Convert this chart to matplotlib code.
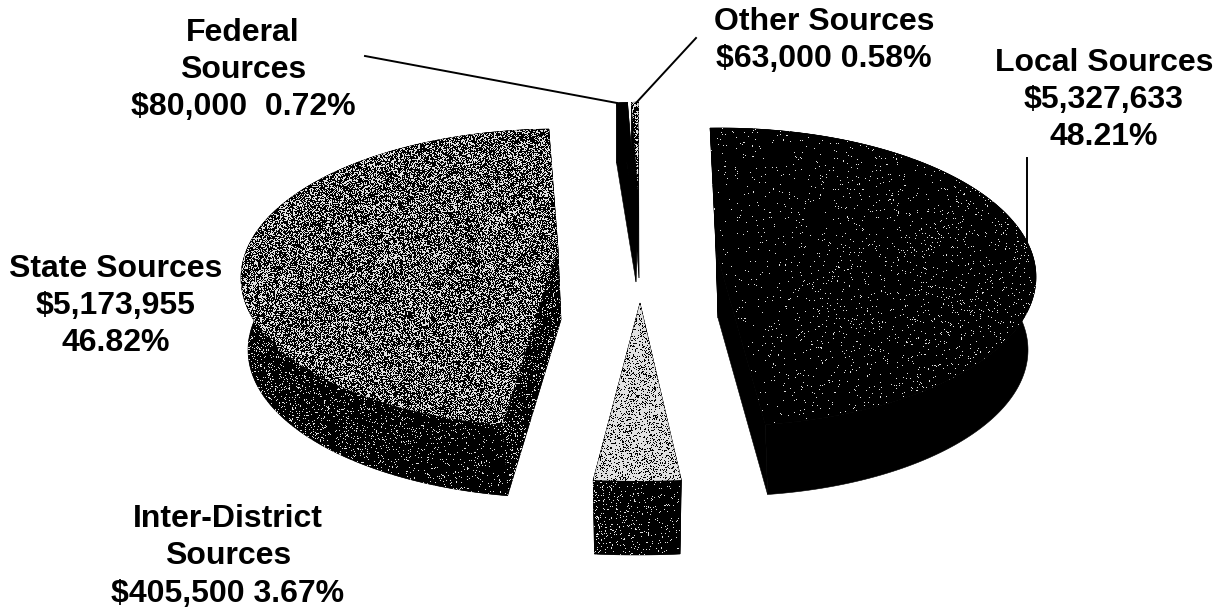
import numpy as np
import matplotlib
matplotlib.use("Agg")
import matplotlib.pyplot as plt
from matplotlib.patches import Polygon

plt.rcParams['font.family'] = ['Liberation Sans', 'DejaVu Sans']

# revenue by source, clockwise from the top of the pie
sources = ["Local", "Inter-District", "State", "Federal", "Other"]
amounts = [5327633, 405500, 5173955, 80000, 63000]
percents = [48.21, 3.67, 46.82, 0.72, 0.58]

# label templates, filled in from amounts and percents
label_formats = [
    "Local Sources\n${a:,}\n{p:.2f}%",
    "Inter-District\nSources\n${a:,} {p:.2f}%",
    "State Sources\n${a:,}\n{p:.2f}%",
    "Federal\nSources\n${a:,}  {p:.2f}%",
    "Other Sources\n${a:,} {p:.2f}%",
]
label_pos = [(1104, 100), (228, 556.5), (116, 306), (243, 70), (824, 40.5)]

START_ANGLE = -1.8
W, H = 1228, 608

# every slice is pulled out on its own, so each has its own ellipse and apex
# top: cx, cy, a, b  bottom: cx, cy, a, b  apex top, apex bottom, angle shift
slice_geom = [
    dict(top=(720, 277, 316, 149), bot=(724, 350, 304, 146),
         apex=(716, 250), apex_b=(718, 318), shift=0),
    dict(top=(637, 333, 383, 148), bot=(637, 407, 372, 148),
         apex=(640, 303), apex_b=(640, 375), shift=1.6),
    dict(top=(557, 278, 316, 149), bot=(562, 350, 314, 148),
         apex=(558, 248), apex_b=(561, 320), shift=5),
    dict(top=(644, 250, 243, 148), bot=(644, 310, 243, 148),
         apex=(637, 222), apex_b=(636, 282), shift=0),
    dict(top=(645, 250, 200, 148), bot=(645, 325, 200, 148),
         apex=(638, 190), apex_b=(639, 278), shift=0),
]

# stipple density of white dots: (left, right) across the slice
top_density = [(0.012, 0.04), (0.78, 0.78), (0.4, 0.4), (0, 0), (0.45, 0.45)]
wall_density = [(0, 0), (0.10, 0.03), (0.13, 0.03), (0, 0), (0, 0)]
cut_density = [(0, 0), (0, 0), (0.14, 0.14), (0, 0), (0, 0)]

rng = np.random.default_rng(7)


def rim(ell, t0, t1):
    t = np.radians(np.linspace(t0, t1, 200))
    cx, cy, a, b = ell
    return np.column_stack([cx + a * np.sin(t), cy - b * np.cos(t)])


def stipple(ax, pts, density, zorder):
    # solid black shape with a scatter of white print dots clipped to it
    poly = Polygon(pts, closed=True, fc="black", ec="black", lw=0.4, zorder=zorder)
    ax.add_patch(poly)
    if max(density) <= 0:
        return
    x0, x1 = pts[:, 0].min(), pts[:, 0].max()
    xs = np.clip((np.arange(W) + 0.5 - x0) / max(x1 - x0, 1), 0, 1)
    prob = density[0] + (density[1] - density[0]) * xs
    dots = rng.random((H, W)) < prob[None, :]
    img = ax.imshow(np.where(dots, 0.88, 0.0), cmap="gray", vmin=0, vmax=1,
                    extent=(0, W, H, 0), interpolation="nearest",
                    zorder=zorder + 0.1, aspect="auto")
    img.set_clip_path(poly)


fig = plt.figure(figsize=(W / 100, H / 100), dpi=100, facecolor="white")
ax = fig.add_axes([0, 0, 1, 1])

angle = START_ANGLE
for i, pct in enumerate(percents):
    g = slice_geom[i]
    t0 = angle + g["shift"]
    t1 = t0 + pct * 3.6
    angle += pct * 3.6

    top_rim = rim(g["top"], t0, t1)
    bot_rim = rim(g["bot"], t0, t1)
    apex = np.array(g["apex"], float)
    apex_b = np.array(g["apex_b"], float)
    z = 2 + i * 3

    # cut faces, outer wall, then the top face over them
    for k in (0, -1):
        cut = np.array([apex, apex_b, bot_rim[k], top_rim[k]])
        stipple(ax, cut, cut_density[i], z)
    wall = np.vstack([top_rim, bot_rim[::-1]])
    stipple(ax, wall, wall_density[i], z + 0.5)
    face = np.vstack([[apex], top_rim])
    stipple(ax, face, top_density[i], z + 1)

    ax.text(*label_pos[i], label_formats[i].format(a=amounts[i], p=pct),
            ha="center", va="center", fontsize=23, fontweight="bold",
            linespacing=1.32, color="black", zorder=40)

# leader lines
ax.plot([365, 617], [56, 103], color="black", lw=1.4, zorder=30)
ax.plot([696, 636], [38, 103], color="black", lw=1.4, zorder=30)
ax.plot([1027, 1027], [158, 245], color="black", lw=1.4, zorder=30)

ax.set_xlim(0, W)
ax.set_ylim(H, 0)
ax.axis("off")
fig.savefig("out.png", dpi=100, facecolor="white")
